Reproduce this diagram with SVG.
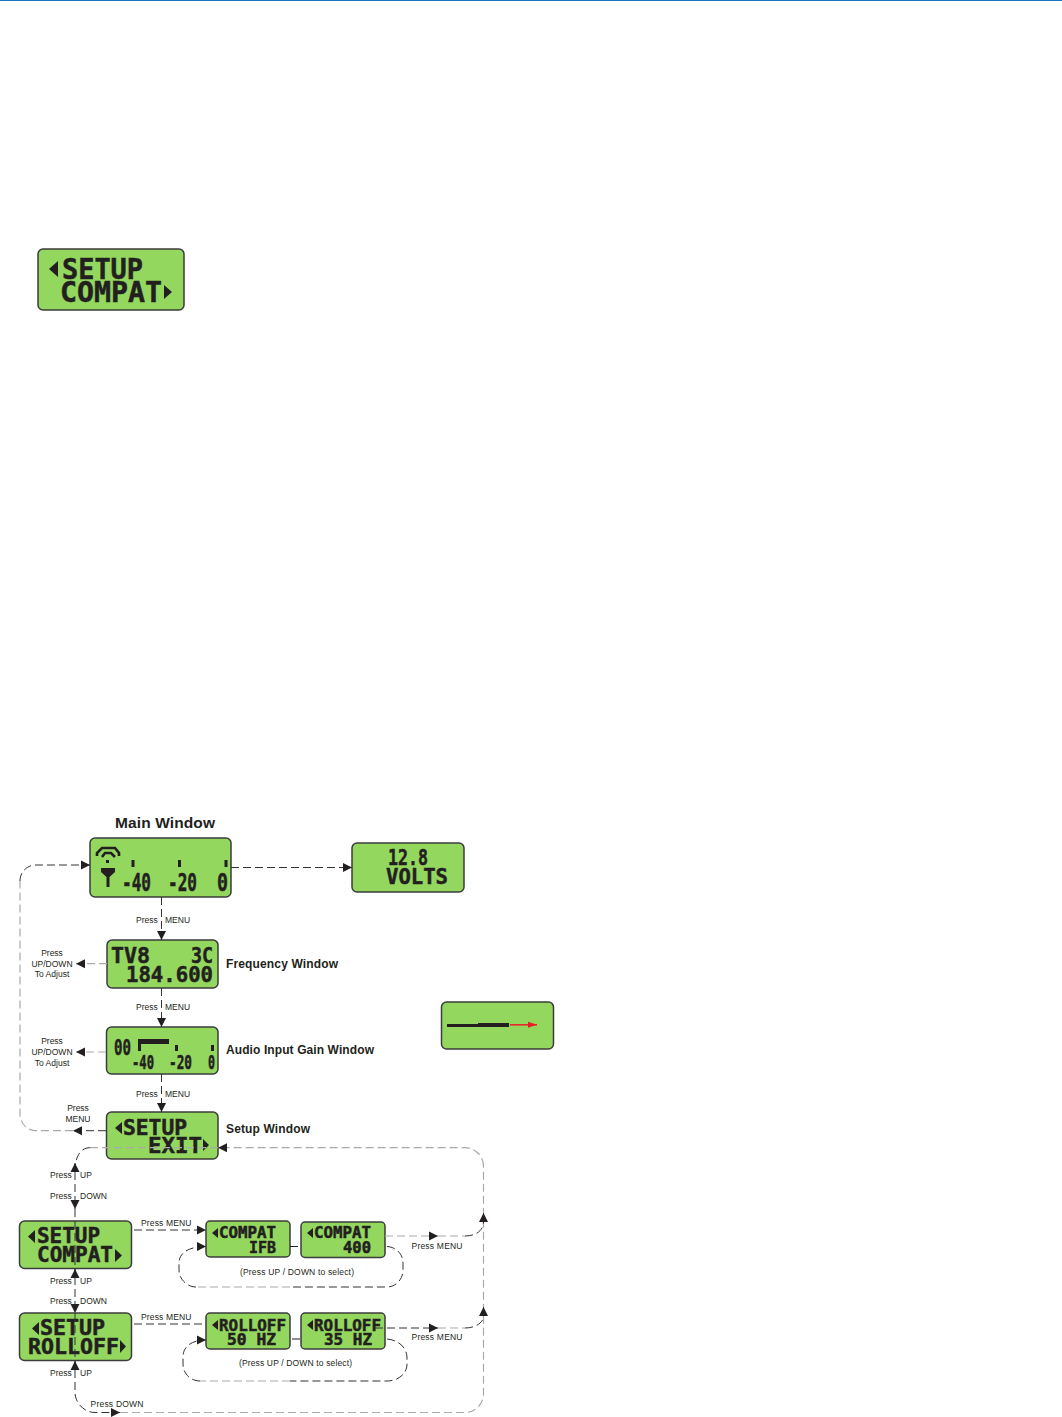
<svg xmlns="http://www.w3.org/2000/svg" width="1062" height="1417" viewBox="0 0 1062 1417">
<style>
.box{fill:#93d75f;stroke:#3c3c3c;stroke-width:1.5}
.lcd{font-family:"DejaVu Sans Mono","Liberation Mono",monospace;font-weight:700;fill:#231f20;stroke:#231f20;stroke-width:.5}
.px{fill:#231f20;stroke:none}
.l{font-family:"Liberation Sans",Arial,sans-serif;font-size:8.5px;fill:#231f20}
.c{text-anchor:middle}
.t{font-family:"Liberation Sans",Arial,sans-serif;font-size:12px;font-weight:700;fill:#231f20}
.d{fill:none;stroke:#333;stroke-width:1;stroke-dasharray:8 4}
.g{fill:none;stroke:#aaa;stroke-width:1.2;stroke-dasharray:8 4}
.s{fill:none;stroke:#333;stroke-width:1}
</style>
<defs>
<marker id="a" markerUnits="userSpaceOnUse" markerWidth="10" markerHeight="10" refX="9" refY="5" orient="auto"><path d="M0 .5L9 5L0 9.500Z" fill="#231f20"/></marker>
<marker id="r" markerUnits="userSpaceOnUse" markerWidth="10" markerHeight="10" refX="9" refY="5" orient="auto"><path d="M0 2L9 5L0 8Z" fill="#ed1c24"/></marker>
</defs>
<rect x="0" y="0" width="1062" height="1" fill="#1c75bc"/>

<g id="node-top-setup-compat">
<rect class="box" x="38" y="249" width="146" height="61" rx="5"/>
<text class="lcd" x="62" y="279" font-size="28" textLength="81" lengthAdjust="spacingAndGlyphs">SETUP</text>
<text class="lcd" x="60" y="302" font-size="28" textLength="102" lengthAdjust="spacingAndGlyphs">COMPAT</text>
<path class="px" d="M58 261V277L49 269ZM164 285V299L172 292Z"/>
</g>

<g id="node-main">
<rect class="box" x="90" y="838" width="141" height="59" rx="5"/>
<path d="M97 856V853L102 848H115L119 853V856M102 857L105 853H111L115 857" fill="none" stroke="#231f20" stroke-width="2.600"/>
<rect class="px" x="106" y="860" width="3" height="3"/>
<path class="px" d="M101 868H115V872L109.500 877V887H106.500V877L101 872Z"/>
<rect class="px" x="131.500" y="860" width="3" height="7"/>
<rect class="px" x="178" y="860" width="3" height="7"/>
<rect class="px" x="224.500" y="860" width="3" height="7"/>
<text class="lcd" x="122" y="891" font-size="25" textLength="29" lengthAdjust="spacingAndGlyphs">-40</text>
<text class="lcd" x="168" y="891" font-size="25" textLength="29" lengthAdjust="spacingAndGlyphs">-20</text>
<text class="lcd" x="217" y="891" font-size="25" textLength="11" lengthAdjust="spacingAndGlyphs">0</text>
</g>

<g id="node-volts">
<rect class="box" x="352" y="843" width="112" height="49" rx="5"/>
<text class="lcd" x="388" y="865" font-size="21" textLength="40" lengthAdjust="spacingAndGlyphs">12.8</text>
<text class="lcd" x="386" y="884" font-size="22" textLength="62" lengthAdjust="spacingAndGlyphs">VOLTS</text>
</g>

<g id="node-frequency">
<rect class="box" x="107" y="940" width="111" height="48" rx="5"/>
<text class="lcd" x="111" y="963" font-size="21" textLength="39" lengthAdjust="spacingAndGlyphs">TV8</text>
<text class="lcd" x="191" y="963" font-size="21" textLength="22" lengthAdjust="spacingAndGlyphs">3C</text>
<text class="lcd" x="126" y="982" font-size="21" textLength="87" lengthAdjust="spacingAndGlyphs">184.600</text>
</g>

<g id="node-audio">
<rect class="box" x="106.500" y="1027" width="111.500" height="47" rx="5"/>
<text class="lcd" x="114" y="1055" font-size="22" textLength="17" lengthAdjust="spacingAndGlyphs">00</text>
<path class="px" d="M138 1039H169V1044H141V1051H138Z"/>
<rect class="px" x="175" y="1045" width="3" height="6"/>
<rect class="px" x="211" y="1045" width="3" height="6"/>
<text class="lcd" x="132" y="1069" font-size="20" textLength="22" lengthAdjust="spacingAndGlyphs">-40</text>
<text class="lcd" x="169" y="1069" font-size="20" textLength="23" lengthAdjust="spacingAndGlyphs">-20</text>
<text class="lcd" x="208" y="1069" font-size="20" textLength="7" lengthAdjust="spacingAndGlyphs">0</text>
</g>

<g id="node-setup-exit">
<rect class="box" x="106.500" y="1112" width="111.500" height="47" rx="5"/>
<text class="lcd" x="123" y="1135" font-size="21" textLength="64" lengthAdjust="spacingAndGlyphs">SETUP</text>
<text class="lcd" x="148" y="1153" font-size="21" textLength="54" lengthAdjust="spacingAndGlyphs">EXIT</text>
<path class="px" d="M122 1122V1134L115 1128ZM203 1139V1151L209 1145Z"/>
</g>

<g id="node-setup-compat">
<rect class="box" x="19.500" y="1221" width="112" height="47.500" rx="5"/>
<text class="lcd" x="37" y="1243" font-size="21" textLength="63" lengthAdjust="spacingAndGlyphs">SETUP</text>
<text class="lcd" x="37" y="1262" font-size="21" textLength="76" lengthAdjust="spacingAndGlyphs">COMPAT</text>
<path class="px" d="M35 1230V1243L28 1236.500ZM115 1249V1262L122 1255.500Z"/>
</g>

<g id="node-setup-rolloff">
<rect class="box" x="19.500" y="1313" width="112" height="47.500" rx="5"/>
<text class="lcd" x="40" y="1335" font-size="21" textLength="65" lengthAdjust="spacingAndGlyphs">SETUP</text>
<text class="lcd" x="28" y="1354" font-size="21" textLength="91" lengthAdjust="spacingAndGlyphs">ROLLOFF</text>
<path class="px" d="M39 1322V1335L32 1328.500ZM120 1340V1353L126 1346.500Z"/>
</g>

<g id="node-compat-ifb">
<rect class="box" x="206" y="1221" width="84" height="36" rx="4"/>
<text class="lcd" x="219" y="1238" font-size="15.500" textLength="57" lengthAdjust="spacingAndGlyphs">COMPAT</text>
<text class="lcd" x="249" y="1253" font-size="15.500" textLength="27" lengthAdjust="spacingAndGlyphs">IFB</text>
<path class="px" d="M218 1228V1238L212 1233Z"/>
</g>

<g id="node-compat-400">
<rect class="box" x="301" y="1222" width="84" height="35.500" rx="4"/>
<text class="lcd" x="314" y="1238" font-size="15.500" textLength="57" lengthAdjust="spacingAndGlyphs">COMPAT</text>
<text class="lcd" x="343" y="1253" font-size="15.500" textLength="28" lengthAdjust="spacingAndGlyphs">400</text>
<path class="px" d="M313 1228V1238L307 1233Z"/>
</g>

<g id="node-rolloff-50">
<rect class="box" x="206" y="1313" width="84" height="36" rx="4"/>
<text class="lcd" x="219" y="1331" font-size="15.500" textLength="67" lengthAdjust="spacingAndGlyphs">ROLLOFF</text>
<text class="lcd" x="227" y="1345" font-size="15.500" textLength="49" lengthAdjust="spacingAndGlyphs">50 HZ</text>
<path class="px" d="M218 1320V1330L212 1325Z"/>
</g>

<g id="node-rolloff-35">
<rect class="box" x="301" y="1313" width="84" height="36" rx="4"/>
<text class="lcd" x="314" y="1331" font-size="15.500" textLength="67" lengthAdjust="spacingAndGlyphs">ROLLOFF</text>
<text class="lcd" x="324" y="1345" font-size="15.500" textLength="48" lengthAdjust="spacingAndGlyphs">35 HZ</text>
<path class="px" d="M313 1320V1330L307 1325Z"/>
</g>

<g id="node-legend">
<rect class="box" x="441.500" y="1002" width="112" height="47" rx="5"/>
<rect class="px" x="447" y="1024" width="31" height="3"/>
<rect class="px" x="478" y="1023" width="31" height="4"/>
<path d="M510 1024.800H537" fill="none" stroke="#ed1c24" stroke-width="1.500" marker-end="url(#r)"/>
</g>

<g id="connectors">
<path class="d" d="M231 867.500H352" marker-end="url(#a)"/>
<path class="d" d="M161.500 897V940" marker-end="url(#a)"/>
<path class="d" d="M161.500 988V1027" marker-end="url(#a)"/>
<path class="d" d="M161.500 1074V1112" marker-end="url(#a)"/>
<path class="g" d="M107 963.700H76" marker-end="url(#a)"/>
<path class="g" d="M106 1052H76" marker-end="url(#a)"/>
<path class="d" d="M106 1130.700H73" marker-end="url(#a)"/>
<path class="g" d="M73 1130.700H36C27 1130.700 20 1123 20 1114V881"/>
<path class="d" d="M20 881C20 872 27 865 36 865H90" marker-end="url(#a)"/>
<path class="g" d="M483.500 1166C483.500 1156 475 1147.700 465 1147.700H218" marker-end="url(#a)"/>
<path class="g" d="M218 1147.700H90"/>
<path class="d" d="M90 1147.700C82 1147.700 75 1154 75 1172"/>
<path class="s" d="M75 1172V1163" marker-end="url(#a)"/>
<path class="d" d="M75 1172V1209" marker-end="url(#a)"/>
<path class="d" d="M75 1209V1277"/>
<path class="s" d="M75 1277V1269" marker-end="url(#a)"/>
<path class="d" d="M75 1277V1313" marker-end="url(#a)"/>
<path class="d" d="M75 1313V1370"/>
<path class="s" d="M75 1370V1361" marker-end="url(#a)"/>
<path class="d" d="M75 1370V1392C75 1403 84 1412.500 95 1412.500H120" marker-end="url(#a)"/>
<path class="g" d="M120 1412.500H465C475 1412.500 483.500 1404 483.500 1394V1166"/>
<path class="d" d="M134 1230H206" marker-end="url(#a)"/>
<path class="d" d="M134 1324H205"/>
<path class="g" d="M385 1236H438" marker-end="url(#a)"/>
<path class="g" d="M438 1236H465"/>
<path class="d" d="M465 1236C475 1236 483.500 1231 483.500 1222"/>
<path class="s" d="M483.500 1222V1213" marker-end="url(#a)"/>
<path class="d" d="M375 1328H438" marker-end="url(#a)"/>
<path class="g" d="M438 1328H465"/>
<path class="d" d="M465 1328C475 1328 483.500 1323 483.500 1316"/>
<path class="s" d="M483.500 1316V1307" marker-end="url(#a)"/>
<path d="M290 1246.500H298M292 1339H300" fill="none" stroke="#231f20"/>
<path class="d" d="M387 1246.500C396 1247 403 1254 403 1263V1270C403 1279 396 1287 387 1287H290"/>
<path class="g" d="M290 1287H196"/>
<path class="d" d="M196 1287C187 1287 179 1279 179 1270V1263C179 1254 187 1246.500 206 1246.500" marker-end="url(#a)"/>
<path class="d" d="M387 1339C398 1340 407 1347 407 1358V1364C407 1374 398 1381 387 1381H290"/>
<path class="g" d="M290 1381H200"/>
<path class="d" d="M200 1381C191 1381 183 1374 183 1364V1357C183 1347 191 1340 206 1340" marker-end="url(#a)"/>
</g>

<g id="labels">
<text class="t" x="115" y="828" style="font-size:15.500px" textLength="100">Main Window</text>
<text class="t" x="226" y="968" textLength="112">Frequency Window</text>
<text class="t" x="226" y="1054" textLength="148">Audio Input Gain Window</text>
<text class="t" x="226" y="1133" textLength="84">Setup Window</text>
<text class="l" x="136" y="923">Press</text><text class="l" x="165" y="923">MENU</text>
<text class="l" x="136" y="1010">Press</text><text class="l" x="165" y="1010">MENU</text>
<text class="l" x="136" y="1097">Press</text><text class="l" x="165" y="1097">MENU</text>
<text class="l c" x="52" y="956">Press</text><text class="l c" x="52" y="966.500">UP/DOWN</text><text class="l c" x="52" y="977">To Adjust</text>
<text class="l c" x="52" y="1044">Press</text><text class="l c" x="52" y="1054.500">UP/DOWN</text><text class="l c" x="52" y="1066">To Adjust</text>
<text class="l c" x="78" y="1111">Press</text><text class="l c" x="78" y="1122">MENU</text>
<text class="l" x="50" y="1178">Press</text><text class="l" x="80" y="1178">UP</text>
<text class="l" x="50" y="1199">Press</text><text class="l" x="80" y="1199">DOWN</text>
<text class="l" x="50" y="1284">Press</text><text class="l" x="80" y="1284">UP</text>
<text class="l" x="50" y="1304">Press</text><text class="l" x="80" y="1304">DOWN</text>
<text class="l" x="50" y="1376">Press</text><text class="l" x="80" y="1376">UP</text>
<text class="l" x="90.500" y="1407" textLength="53">Press DOWN</text>
<text class="l" x="141" y="1226" textLength="50.500">Press MENU</text>
<text class="l" x="141" y="1320" textLength="50.500">Press MENU</text>
<text class="l" x="411.500" y="1249" textLength="51">Press MENU</text>
<text class="l" x="411.500" y="1340" textLength="51">Press MENU</text>
<text class="l" x="240" y="1275" textLength="114">(Press UP / DOWN to select)</text>
<text class="l" x="239" y="1366" textLength="113">(Press UP / DOWN to select)</text>
</g>
</svg>
